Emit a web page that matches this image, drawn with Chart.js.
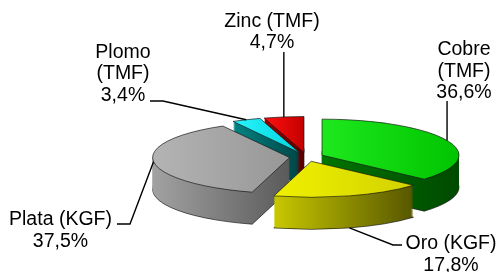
<!DOCTYPE html>
<html>
<head>
<meta charset="utf-8">
<script src="https://cdn.jsdelivr.net/npm/chart.js@4/dist/chart.umd.min.js"></script>
<style>
    html, body { margin: 0; padding: 0; background: #fff; }
    canvas { display: block; }
</style>
</head>
<body>
<canvas id="g1" width="499" height="272"></canvas>
<script>
// datos de produccion (participacion %)
const categorias = ['Cobre (TMF)', 'Oro (KGF)', 'Plata (KGF)', 'Plomo (TMF)', 'Zinc (TMF)'];
const participacion = [36.6, 17.8, 37.5, 3.4, 4.7];

// colores: cara superior y lateral (claro -> oscuro)
const coloresTop = [['#1ee81e', '#00c400'], ['#f0f000', '#d2d200'], ['#b4b4b4', '#979797'], ['#2af4fc', '#00d4de'], ['#ff1010', '#c40000']];
const coloresLado = [['#007400', '#004a00'], ['#c8c800', '#565600'], ['#a2a2a2', '#5a5a5a'], ['#008282', '#004646'], ['#9c0000', '#580000']];

const k = 0.263;     // aplastamiento vertical
const depth = 32;    // grosor del pastel
const explode = 17;  // separacion de porciones
const topY = 157;    // centro vertical de la cara superior

// posicion de las etiquetas (x centro, primera linea base) y codo de la guia
const etiquetas = [
    { x: 464, y: 55, split: true, guia: (a) => [[a.x, 101]] },
    { x: 451, y: 249, split: false, guia: () => [[402, 245], [393, 245]], lado: true },
    { x: 60.5, y: 225, split: false, guia: () => [[117, 224], [130, 224]] },
    { x: 123, y: 57.5, split: true, guia: () => [[150, 101], [163, 101]] },
    { x: 272, y: 26.7, split: false, guia: (a) => [[a.x, 52]] }
];

function rangoX(arc) {
    let min = arc.x, max = arc.x;
    for (let t = 0; t <= 40; t++) {
        const ang = arc.startAngle + (arc.endAngle - arc.startAngle) * t / 40;
        const x = arc.x + arc.outerRadius * Math.cos(ang);
        min = Math.min(min, x);
        max = Math.max(max, x);
    }
    return [min, max];
}

function dibujarArco(arc, ctx, extra) {
    const tmp = Object.create(arc);
    tmp.options = Object.assign({}, arc.options, extra);
    tmp.draw(ctx);
}

const pie3d = {
    id: 'pie3d',
    beforeDatasetsDraw(chart) {
        const ctx = chart.ctx;
        const meta = chart.getDatasetMeta(0);
        const ca = chart.chartArea;
        const cy = (ca.top + ca.bottom) / 2;

        const ubicar = (arc, d) => {
            const mid = (arc.startAngle + arc.endAngle) / 2;
            ctx.translate(0, topY + d);
            ctx.scale(1, k);
            ctx.translate(0, -cy);
            ctx.translate(Math.cos(mid) * explode, Math.sin(mid) * explode);
        };
        const degradado = (arc, cols) => {
            const [x0, x1] = rangoX(arc);
            const g = ctx.createLinearGradient(x0, 0, x1, 0);
            g.addColorStop(0, cols[0]);
            g.addColorStop(1, cols[1]);
            return g;
        };
        const contorno = (arc, d, color) => {
            ctx.save();
            ctx.save();
            ubicar(arc, d);
            ctx.beginPath();
            ctx.moveTo(arc.x, arc.y);
            ctx.arc(arc.x, arc.y, arc.outerRadius, arc.startAngle, arc.endAngle);
            ctx.closePath();
            ctx.restore();
            ctx.lineWidth = 0.9;
            ctx.strokeStyle = color;
            ctx.stroke();
            ctx.restore();
        };

        // laterales, desde abajo hacia arriba
        for (let d = depth; d >= 1; d--) {
            meta.data.forEach((arc, i) => {
                ctx.save();
                ubicar(arc, d);
                dibujarArco(arc, ctx, { backgroundColor: degradado(arc, coloresLado[i]), borderWidth: 0 });
                ctx.restore();
                if (d === depth) contorno(arc, d, 'rgba(20,20,20,0.75)');
            });
        }
        // caras superiores
        meta.data.forEach((arc, i) => {
            ctx.save();
            ubicar(arc, 0);
            dibujarArco(arc, ctx, { backgroundColor: degradado(arc, coloresTop[i]), borderWidth: 0 });
            ctx.restore();
            contorno(arc, 0, 'rgba(20,20,20,0.75)');
        });
        return false;
    },
    afterDraw(chart) {
        const ctx = chart.ctx;
        const meta = chart.getDatasetMeta(0);
        const ca = chart.chartArea;
        const cy = (ca.top + ca.bottom) / 2;

        ctx.save();
        ctx.font = '19.5px "Liberation Sans", Arial, sans-serif';
        ctx.fillStyle = '#000';
        ctx.textAlign = 'center';
        ctx.textBaseline = 'alphabetic';
        ctx.strokeStyle = '#000';
        ctx.lineWidth = 1.4;

        meta.data.forEach((arc, i) => {
            const mid = (arc.startAngle + arc.endAngle) / 2;
            const et = etiquetas[i];
            const d = et.lado ? depth : 0;
            const ancla = {
                x: arc.x + Math.cos(mid) * (explode + arc.outerRadius),
                y: topY + d + k * (arc.y + Math.sin(mid) * (explode + arc.outerRadius) - cy)
            };
            const pts = et.guia(ancla);
            ctx.beginPath();
            ctx.moveTo(pts[0][0], pts[0][1]);
            pts.slice(1).forEach((p) => ctx.lineTo(p[0], p[1]));
            ctx.lineTo(ancla.x, ancla.y);
            ctx.stroke();

            const pct = participacion[i].toFixed(1).replace('.', ',') + '%';
            const lineas = et.split ? categorias[i].split(' ') : [categorias[i]];
            lineas.push(pct);
            lineas.forEach((t, j) => ctx.fillText(t, et.x, et.y + j * 21.5));
        });
        ctx.restore();
    }
};

new Chart(document.getElementById('g1').getContext('2d'), {
    type: 'pie',
    data: {
        labels: categorias,
        datasets: [
            {
                data: participacion,
                backgroundColor: coloresTop.map((c) => c[1]),
                borderWidth: 0,
                clip: false
            }
        ]
    },
    options: {
        responsive: false,
        animation: false,
        events: [],
        radius: 137,
        layout: {
            padding: { left: 114 }
        },
        plugins: {
            legend: { display: false },
            tooltip: { enabled: false }
        }
    },
    plugins: [pie3d]
});
</script>
</body>
</html>
